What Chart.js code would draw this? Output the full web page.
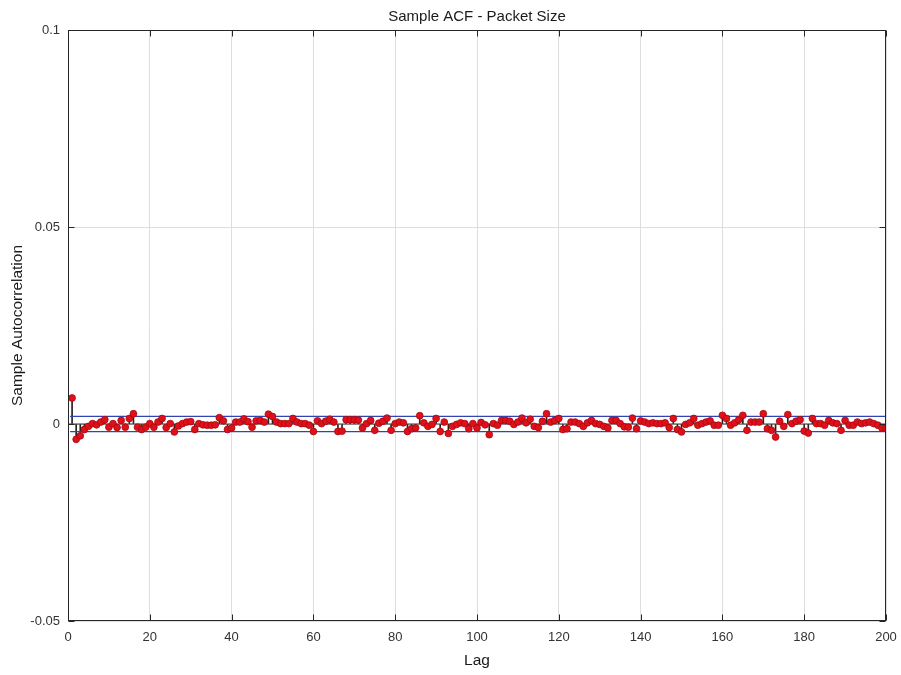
<!DOCTYPE html>
<html>
<head>
<meta charset="utf-8">
<script src="https://cdn.jsdelivr.net/npm/chart.js@4.4.1/dist/chart.umd.min.js"></script>
<style>html,body{margin:0;padding:0;background:#fff;}canvas{display:block;}</style>
</head>
<body>
<canvas id="c" width="901" height="675"></canvas>
<script>
// ---- data ----
const lags = [1,2,3,4,5,6,7,8,9,10,11,12,13,14,15,16,17,18,19,20,
21,22,23,24,25,26,27,28,29,30,31,32,33,34,35,36,37,38,39,40,
41,42,43,44,45,46,47,48,49,50,51,52,53,54,55,56,57,58,59,60,
61,62,63,64,65,66,67,68,69,70,71,72,73,74,75,76,77,78,79,80,
81,82,83,84,85,86,87,88,89,90,91,92,93,94,95,96,97,98,99,100,
101,102,103,104,105,106,107,108,109,110,111,112,113,114,115,116,117,118,119,120,
121,122,123,124,125,126,127,128,129,130,131,132,133,134,135,136,137,138,139,140,
141,142,143,144,145,146,147,148,149,150,151,152,153,154,155,156,157,158,159,160,
161,162,163,164,165,166,167,168,169,170,171,172,173,174,175,176,177,178,179,180,
181,182,183,184,185,186,187,188,189,190,191,192,193,194,195,196,197,198,199,200];

const acf = [
0.0066,-0.0039,-0.0030,-0.0014,-0.0006,0.0001,-0.0002,0.0005,0.0011,-0.0008,
0.0001,-0.0009,0.0009,-0.0008,0.0014,0.0026,-0.0008,-0.0014,-0.0008,0.0001,
-0.0008,0.0005,0.0014,-0.0009,0.0001,-0.0020,-0.0005,0.0001,0.0005,0.0006,
-0.0014,0.0001,-0.0002,-0.0003,-0.0003,-0.0002,0.0016,0.0008,-0.0014,-0.0010,
0.0005,0.0005,0.0013,0.0006,-0.0008,0.0008,0.0009,0.0005,0.0025,0.0019,
0.0005,0.0001,0.0001,0.0001,0.0014,0.0005,0.0001,0.0001,-0.0003,-0.0019,
0.0008,0.0001,0.0007,0.0012,0.0005,-0.0019,-0.0018,0.0011,0.0011,0.0011,
0.0010,-0.0010,0.0001,0.0009,-0.0016,0.0002,0.0007,0.0015,-0.0016,0.0001,
0.0005,0.0003,-0.0019,-0.0012,-0.0010,0.0021,0.0003,-0.0006,-0.0001,0.0014,
-0.0019,0.0005,-0.0024,-0.0006,-0.0001,0.0003,0.0001,-0.0012,0.0001,-0.0010,
0.0004,-0.0002,-0.0027,0.0001,-0.0003,0.0009,0.0009,0.0007,-0.0001,0.0005,
0.0015,0.0003,0.0012,-0.0006,-0.0009,0.0007,0.0026,0.0005,0.0009,0.0014,
-0.0014,-0.0012,0.0005,0.0005,0.0001,-0.0006,0.0003,0.0009,0.0001,-0.0001,
-0.0006,-0.0010,0.0009,0.0009,0.0001,-0.0007,-0.0008,0.0015,-0.0012,0.0008,
0.0005,0.0001,0.0003,0.0001,0.0001,0.0003,-0.0009,0.0014,-0.0014,-0.0020,
-0.0001,0.0003,0.0014,-0.0003,0.0001,0.0005,0.0008,-0.0003,-0.0003,0.0022,
0.0014,-0.0003,0.0003,0.0011,0.0022,-0.0016,0.0005,0.0005,0.0005,0.0026,
-0.0012,-0.0016,-0.0033,0.0007,-0.0006,0.0024,0.0001,0.0007,0.0011,-0.0018,
-0.0023,0.0014,0.0001,0.0001,-0.0003,0.0009,0.0003,0.0001,-0.0016,0.0009,
-0.0003,-0.0003,0.0005,0.0001,0.0003,0.0005,0.0001,-0.0003,-0.0010,-0.0010];

const confUpper = 0.00195;
const confLower = -0.00195;
const boundLags = [0.5, 200];
const baseLags = [0, 200];

const xTicks = [0,20,40,60,80,100,120,140,160,180,200];
const xTickLabels = ['0','20','40','60','80','100','120','140','160','180','200'];
const yTicks = [-0.05, 0, 0.05, 0.1];
const yTickLabels = ['-0.05','0','0.05','0.1'];

const titleText = 'Sample ACF - Packet Size';
const xLabel = 'Lag';
const yLabel = 'Sample Autocorrelation';

// ---- chart ----
Chart.defaults.font.family = "'Liberation Sans', Arial, Helvetica, sans-serif";

const points = lags.map((l, i) => ({x: l, y: acf[i]}));

const boxPlugin = {
  id: 'matlabBox',
  afterDraw(chart) {
    const {ctx, chartArea: a, scales: {x, y}} = chart;
    ctx.save();
    ctx.strokeStyle = '#262626';
    ctx.lineWidth = 1;
    const L = Math.round(a.left) + 0.5, T = Math.round(a.top) + 0.5;
    const R = Math.round(a.right) - 0.5, B = Math.round(a.bottom) - 0.5;
    ctx.strokeRect(L, T, R - L, B - T);
    ctx.beginPath();
    x.ticks.forEach(t => {
      const px = Math.round(x.getPixelForValue(t.value)) + 0.5;
      ctx.moveTo(px, B); ctx.lineTo(px, B - 6);
      ctx.moveTo(px, T); ctx.lineTo(px, T + 6);
    });
    y.ticks.forEach(t => {
      const py = Math.round(y.getPixelForValue(t.value)) + 0.5;
      ctx.moveTo(L, py); ctx.lineTo(L + 6, py);
      ctx.moveTo(R, py); ctx.lineTo(R - 6, py);
    });
    ctx.stroke();
    ctx.restore();
  }
};

new Chart(document.getElementById('c'), {
  type: 'scatter',
  data: {
    datasets: [
      {
        type: 'scatter', label: 'ACF', data: points,
        pointRadius: 3.4, pointBackgroundColor: '#e0101a',
        pointBorderColor: '#a8080e', pointBorderWidth: 0.8, order: 0
      },
      {
        type: 'bar', label: 'stems', data: points,
        backgroundColor: '#222222', barThickness: 1, order: 2
      },
      {
        type: 'line', label: 'upper', data: boundLags.map(v => ({x: v, y: confUpper})),
        borderColor: '#3145b0', borderWidth: 1.2, pointRadius: 0, tension: 0, order: 1
      },
      {
        type: 'line', label: 'lower', data: boundLags.map(v => ({x: v, y: confLower})),
        borderColor: '#3145b0', borderWidth: 1.2, pointRadius: 0, tension: 0, order: 1
      },
      {
        type: 'line', label: 'baseline', data: baseLags.map(v => ({x: v, y: 0})),
        borderColor: '#333333', borderWidth: 1, pointRadius: 0, tension: 0, order: 3
      }
    ]
  },
  options: {
    responsive: false,
    animation: false,
    devicePixelRatio: 1,
    layout: {padding: {left: 0, right: 15, top: 0, bottom: 0}},
    plugins: {
      legend: {display: false},
      tooltip: {enabled: false},
      title: {
        display: true, text: titleText, fullSize: false,
        font: {size: 15, weight: 'normal'}, color: '#1a1a1a',
        padding: {top: 8, bottom: 4}
      }
    },
    scales: {
      x: {
        type: 'linear', min: 0, max: 200, offset: false,
        afterBuildTicks: s => { s.ticks = xTicks.map(v => ({value: v})); },
        afterFit: s => { s.height = 54; s.paddingLeft = 0; s.paddingRight = 0; },
        ticks: {
          callback: (v, i) => xTickLabels[i], font: {size: 13}, color: '#333333',
          padding: 9, maxRotation: 0, autoSkip: false
        },
        grid: {color: '#dedede', drawTicks: false, offset: false},
        border: {display: false},
        title: {display: true, text: xLabel, font: {size: 15.5}, color: '#1a1a1a', padding: {top: 0, bottom: 5}}
      },
      y: {
        type: 'linear', min: -0.05, max: 0.1,
        afterBuildTicks: s => { s.ticks = yTicks.map(v => ({value: v})); },
        afterFit: s => { s.width = 68; s.paddingTop = 0; s.paddingBottom = 0; },
        ticks: {
          callback: (v, i) => yTickLabels[i], font: {size: 13}, color: '#333333',
          padding: 8, autoSkip: false
        },
        grid: {color: '#dedede', drawTicks: false, offset: false},
        border: {display: false},
        title: {display: true, text: yLabel, font: {size: 15.5}, color: '#1a1a1a', padding: {top: 8, bottom: 0}}
      }
    }
  },
  plugins: [boxPlugin]
});
</script>
</body>
</html>
